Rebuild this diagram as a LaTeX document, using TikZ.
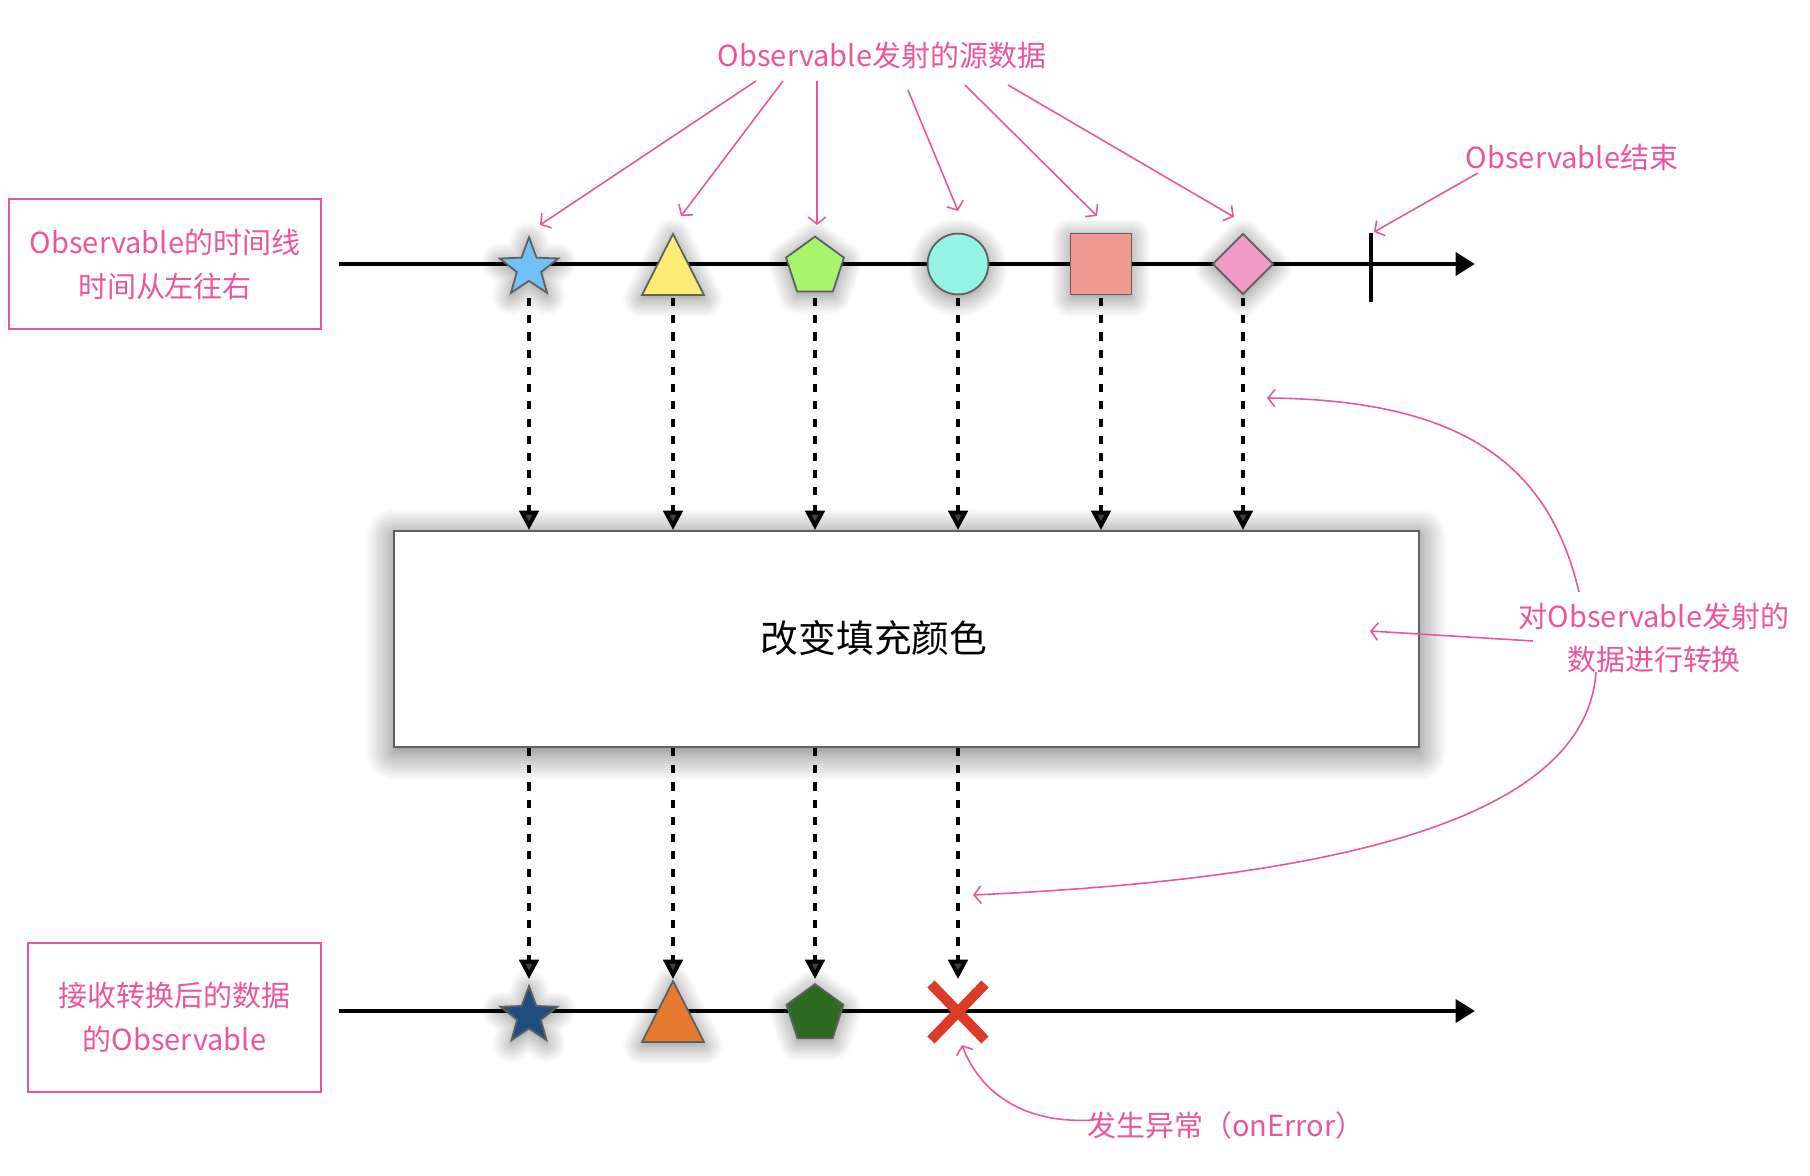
\documentclass[tikz,border=0pt]{standalone}
\usepackage{fontspec}
\setmainfont{Noto Sans CJK SC}
\usepackage{tikz}
\usetikzlibrary{shapes.geometric, arrows.meta, shadows.blur}

\definecolor{notepink}{RGB}{234,85,155}
\definecolor{edgegray}{RGB}{95,95,95}
\definecolor{skyblue}{RGB}{114,192,248}
\definecolor{lemon}{RGB}{252,236,116}
\definecolor{lime}{RGB}{166,245,106}
\definecolor{aqua}{RGB}{149,245,228}
\definecolor{salmon}{RGB}{240,155,144}
\definecolor{rose}{RGB}{240,154,198}
\definecolor{navy}{RGB}{30,78,128}
\definecolor{tangerine}{RGB}{229,122,46}
\definecolor{forest}{RGB}{46,106,31}
\definecolor{errred}{RGB}{220,59,38}

\begin{document}
\begin{tikzpicture}[
        x=0.02cm, y=-0.02cm,
        timeline/.style={line width=2.4pt, -{Triangle[length=11pt,width=13pt]}},
        flow/.style={line width=2.2pt, dash pattern=on 4.6pt off 5.2pt, -{Triangle[length=11pt,width=11pt]}},
        note/.style={text=notepink, font=\fontsize{16.5}{25}\selectfont, align=center},
        notebox/.style={note, draw=notepink, line width=1.1pt},
        notearrow/.style={notepink, line width=0.9pt, -{Straight Barb[length=4pt,width=10pt]}},
        item/.style={draw=edgegray, line width=1pt, inner sep=0pt,
            blur shadow={shadow xshift=0pt, shadow yshift=-2pt, shadow blur radius=11pt, shadow blur steps=10, shadow opacity=50}},
        opbox/.style={draw=edgegray, line width=1.2pt, fill=white, minimum width=20.5cm, minimum height=4.32cm,
            blur shadow={shadow xshift=0pt, shadow yshift=-3pt, shadow blur radius=16pt, shadow blur steps=12, shadow opacity=60}}
    ]
    \useasboundingbox (0,0) rectangle (1810,1176);

    % labels
    \node[notebox, minimum width=6.24cm, minimum height=2.6cm] (srcline) at (165,264) {Observable的时间线\\时间从左往右};
    \node[notebox, minimum width=5.86cm, minimum height=2.98cm] (outline) at (174.5,1017.5) {接收转换后的数据\\的Observable};
    \node[note] (src) at (882,55) {Observable发射的源数据};
    \node[note] (done) at (1572,157) {Observable结束};
    \node[note] (xform) at (1654,638) {对Observable发射的\\数据进行转换};
    \node[note] (errlbl) at (1226,1125) {发生异常（onError）};

    % timelines
    \draw[timeline] ([shift={(17,0)}]srcline.east) -- ++(1136,0);
    \draw[timeline] ([shift={(17,-6.5)}]outline.east) -- ++(1136,0);
    \coordinate (tick) at (1371,264);
    \draw[line width=2.4pt] ([shift={(0,38)}]tick) -- ([shift={(0,-31)}]tick);

    % source items
    \node[item, star, star points=5, star point ratio=2.4, minimum size=35pt, fill=skyblue] (s1) at (529,268) {};
    \coordinate (s2) at (673,264);
    \draw[item, fill=lemon] ([shift={(-31,31)}]s2) -- ([shift={(0,-30)}]s2) -- ([shift={(31,31)}]s2) -- cycle;
    \node[item, regular polygon, regular polygon sides=5, minimum size=34.6pt, fill=lime] (s3) at (815,267) {};
    \node[item, circle, minimum size=34.6pt, fill=aqua] (s4) at (958,264) {};
    \node[item, rectangle, minimum size=34.6pt, fill=salmon] (s5) at (1101,264) {};
    \node[item, diamond, minimum width=34.6pt, minimum height=34.6pt, fill=rose] (s6) at (1243,264) {};

    % operator
    \node[opbox] (op) at (906.5,639) {};
    \node[font=\fontsize{21.5}{25}\selectfont] (optext) at (874,638) {改变填充颜色};

    % result items
    \node[item, star, star points=5, star point ratio=2.4, minimum size=34pt, fill=navy] (r1) at (529,1016) {};
    \coordinate (r2) at (673,1011);
    \draw[item, fill=tangerine] ([shift={(-31,31)}]r2) -- ([shift={(0,-30)}]r2) -- ([shift={(31,31)}]r2) -- cycle;
    \node[item, regular polygon, regular polygon sides=5, minimum size=34pt, fill=forest] (r3) at (815,1014) {};
    \coordinate (err) at (958,1012);
    \draw[errred, line width=5.8pt] ([shift={(-27,-28)}]err) -- ([shift={(27,28)}]err)
        ([shift={(27,-28)}]err) -- ([shift={(-27,28)}]err);

    % flow
    \coordinate (inrow) at (0,298);
    \coordinate (outrow) at (0,979);
    \foreach \n in {1,...,6}
        \draw[flow] (s\n |- inrow) -- (s\n |- op.north);
    \foreach \n in {1,2,3}
        \draw[flow] (s\n |- op.south) -- (s\n |- outrow);
    \draw[flow] (s4 |- op.south) -- (s4 |- outrow);

    % notes
    \draw[notearrow] ([shift={(-126,26)}]src.center) -- ([shift={(11,-43)}]s1.center);
    \draw[notearrow] ([shift={(-99,26)}]src.center) -- ([shift={(8,-48)}]s2);
    \draw[notearrow] ([shift={(-65,26)}]src.center) -- ([shift={(2,-42)}]s3.center);
    \draw[notearrow] ([shift={(26,35)}]src.center) -- ([shift={(0,-53)}]s4.center);
    \draw[notearrow] ([shift={(83,30)}]src.center) -- ([shift={(-4,-48)}]s5.center);
    \draw[notearrow] ([shift={(126,30)}]src.center) -- ([shift={(-9,-47)}]s6.center);
    \draw[notearrow] ([shift={(-94,16)}]done.center) -- ([shift={(3,-32)}]tick);
    \draw[notearrow] ([shift={(-121,3)}]xform.center) -- ([shift={(-50,-8)}]op.east);
    \draw[notearrow] ([shift={(-75,-46)}]xform.center) .. controls (1550,470) and (1470,400) .. ([shift={(24,134)}]s6.center);
    \draw[notearrow] ([shift={(-58,34)}]xform.center) .. controls (1585,830) and (1300,880) .. ([shift={(15,-117)}]err);
    \draw[notearrow] ([shift={(-132,-5)}]errlbl.center) .. controls (1010,1125) and (975,1080) .. ([shift={(4,33)}]err);
\end{tikzpicture}
\end{document}
